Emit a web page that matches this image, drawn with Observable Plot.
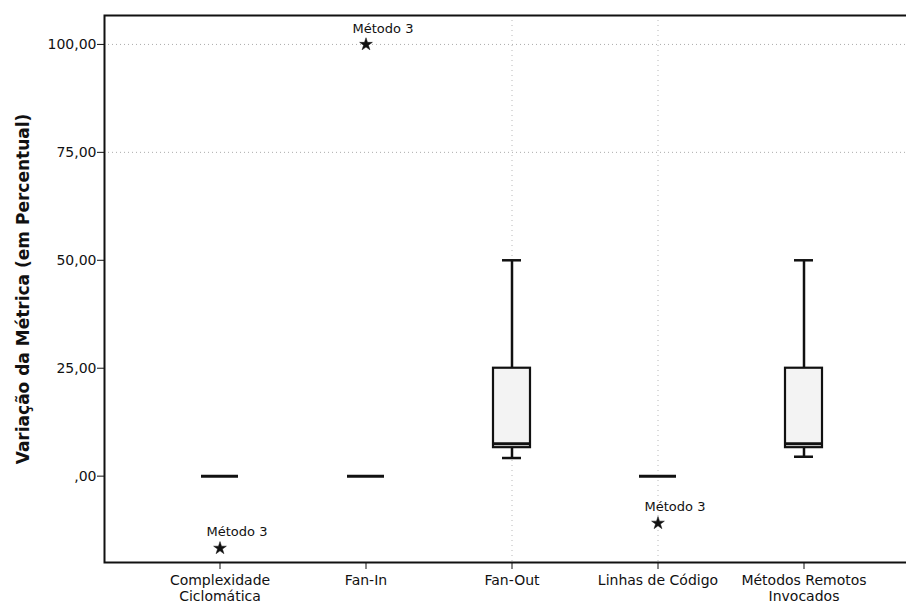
<!DOCTYPE html>
<html>
<head>
<meta charset="utf-8">
<script src="https://cdn.jsdelivr.net/npm/d3@7"></script>
<script src="https://cdn.jsdelivr.net/npm/@observablehq/plot@0.6"></script>
<style>
  html, body { margin: 0; padding: 0; background: #fff; }
</style>
</head>
<body>
<div id="chart"></div>
<script>
const categories = ["Complexidade\nCiclomática", "Fan-In", "Fan-Out", "Linhas de Código", "Métodos Remotos\nInvocados"];
const lowWhisker = [0, 0, 4.2, 0, 4.5];
const q1 = [0, 0, 6.6, 0, 6.6];
const median = [0, 0, 7.5, 0, 7.5];
const q3 = [0, 0, 25, 0, 25];
const highWhisker = [0, 0, 50, 0, 50];

const outlierCategory = ["Complexidade\nCiclomática", "Fan-In", "Linhas de Código"];
const outlierValue = [-16.7, 100, -10.9];
const outlierLabel = ["Método 3", "Método 3", "Método 3"];

const yTicks = [0, 25, 50, 75, 100];
const gridY = [75, 100];
const gridX = ["Fan-Out", "Linhas de Código"];

const boxes = categories.map((c, i) => ({
  cat: c, lo: lowWhisker[i], q1: q1[i], med: median[i], q3: q3[i], hi: highWhisker[i]
}));
const realBoxes = boxes.filter(d => d.q3 > d.q1);
const outliers = outlierCategory.map((c, i) => ({cat: c, v: outlierValue[i], label: outlierLabel[i]}));

const fmt = d => d === 0 ? ",00" : d.toFixed(2).replace(".", ",");

const plot = Plot.plot({
  width: 906,
  height: 604,
  marginLeft: 104,
  marginRight: -3,
  marginTop: 15,
  marginBottom: 42,
  style: {fontFamily: "'DejaVu Sans', sans-serif", fontSize: "14px", background: "#fff", color: "#111"},
  x: {type: "band", domain: categories, range: [144.75, 877.25], paddingInner: 0.747, paddingOuter: 0.3735, axis: null},
  y: {domain: [-20, 106.7], axis: null},
  marks: [
    Plot.ruleY(gridY, {stroke: "#888", strokeDasharray: "1,3", strokeOpacity: 0.7}),
    Plot.ruleX(gridX, {x: d => d, stroke: "#888", strokeDasharray: "1,4", strokeOpacity: 0.6}),
    Plot.ruleX(realBoxes, {x: "cat", y1: "q3", y2: "hi", stroke: "#111", strokeWidth: 2.5}),
    Plot.ruleX(realBoxes, {x: "cat", y1: "lo", y2: "q1", stroke: "#111", strokeWidth: 2.5}),
    Plot.tickY(realBoxes, {x: "cat", y: "hi", stroke: "#111", strokeWidth: 2.5, insetLeft: 9, insetRight: 9}),
    Plot.tickY(realBoxes, {x: "cat", y: "lo", stroke: "#111", strokeWidth: 2.5, insetLeft: 9, insetRight: 9}),
    Plot.barY(realBoxes, {x: "cat", y1: "q1", y2: "q3", fill: "#f3f3f3", stroke: "#111", strokeWidth: 2.2}),
    Plot.tickY(boxes, {x: "cat", y: "med", stroke: "#111", strokeWidth: 3}),
    Plot.dot(outliers, {x: "cat", y: "v", symbol: "star", r: 4, fill: "#111", stroke: "#111", strokeWidth: 0.5}),
    Plot.text(outliers, {x: "cat", y: "v", text: "label", dx: 17, dy: -16, fontSize: 13, fill: "#111"}),
    Plot.axisY({ticks: yTicks, tickFormat: fmt, tickSize: 7, tickPadding: 1, fontSize: 14,
      label: "Variação da Métrica (em Percentual)", labelAnchor: "center", labelOffset: 88, labelArrow: "none"}),
    Plot.axisX({tickSize: 7, tickPadding: 5, fontSize: 14, label: null, lineHeight: 1.1}),
    Plot.frame({stroke: "#111", strokeWidth: 2})
  ]
});

d3.select(plot).selectAll('[aria-label="y-axis label"] text')
  .attr("font-weight", "bold").attr("font-size", "17px");
document.getElementById("chart").appendChild(plot);
</script>
</body>
</html>
